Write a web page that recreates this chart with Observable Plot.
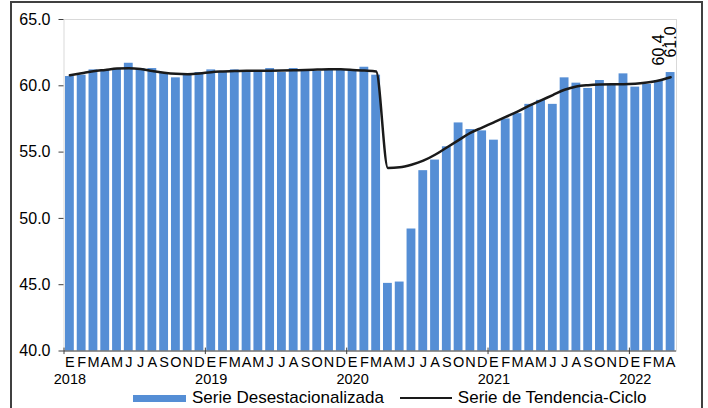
<!DOCTYPE html>
<html>
<head>
<meta charset="utf-8">
<script src="https://cdn.jsdelivr.net/npm/d3@7"></script>
<script src="https://cdn.jsdelivr.net/npm/@observablehq/plot@0.6"></script>
<style>
  body { margin: 0; background: #fff; font-family: "Liberation Sans", Arial, sans-serif; }
  #wrap { position: relative; width: 708px; height: 408px; overflow: hidden; background: #fff; }
  #borde { position: absolute; left: 10px; top: 1px; width: 689px; height: 430px; border: 2px solid #404040; pointer-events: none; }
  #legend { position: absolute; left: 0; top: 388px; width: 708px; height: 20px; display: flex; align-items: center; font-size: 17px; color: #000; }
  .sw-bar { margin-left: 133px; width: 53px; height: 7px; background: #558ed5; }
  .sw-line { margin-left: 16px; width: 52px; height: 2.5px; background: #1a1a1a; }
  .lab { margin-left: 6px; white-space: nowrap; }
</style>
</head>
<body>
<div id="wrap">
  <div id="chart"></div>
  <div id="legend">
    <div class="sw-bar"></div><span class="lab">Serie Desestacionalizada</span>
    <div class="sw-line"></div><span class="lab">Serie de Tendencia-Ciclo</span>
  </div>
  <div id="borde"></div>
</div>
<script>
// Datos (ene 2018 - abr 2022)
const anios = [2018, 2019, 2020, 2021, 2022]
const letras = ["E", "F", "M", "A", "M", "J", "J", "A", "S", "O", "N", "D"]
const yTicks = [40, 45, 50, 55, 60, 65]

const desest = [
  60.7, 60.8, 61.2, 61.2, 61.3, 61.7, 61.3, 61.3, 61.0, 60.6, 60.9, 61.0,
  61.2, 61.0, 61.2, 61.1, 61.1, 61.3, 61.0, 61.3, 61.1, 61.1, 61.2, 61.2,
  61.2, 61.4, 60.8, 45.1, 45.2, 49.2, 53.6, 54.4, 55.4, 57.2, 56.7, 56.6,
  55.9, 57.5, 57.9, 58.6, 58.9, 58.6, 60.6, 60.2, 59.8, 60.4, 60.1, 60.9,
  59.9, 60.1, 60.4, 61.0
]
const tendencia = [
  60.8, 60.95, 61.1, 61.2, 61.3, 61.33, 61.27, 61.12, 60.98, 60.9, 60.88, 60.93,
  61.03, 61.08, 61.12, 61.14, 61.14, 61.14, 61.15, 61.17, 61.2, 61.22, 61.25, 61.24,
  61.2, 61.15, 61.08, 53.8, 53.85, 54.05, 54.35, 54.8, 55.35, 55.9, 56.45, 56.85,
  57.25, 57.65, 58.05, 58.5, 58.9, 59.3, 59.7, 59.95, 60.05, 60.1, 60.12, 60.12,
  60.15, 60.25, 60.4, 60.65
]

// claves de mes "2018-01" ...
const meses = []
anios.forEach(a => letras.forEach((l, m) => meses.push(a + "-" + String(m + 1).padStart(2, "0"))))
meses.length = desest.length
const eneros = meses.filter(k => k.endsWith("-01"))

const data = meses.map((k, i) => ({mes: k, desest: desest[i], tendencia: tendencia[i]}))

const width = 708, height = 390
const mL = 63.5, mR = 32, mT = 19, mB = 39.5
const paso = (width - mL - mR) / meses.length
const oscuro = "#404040"

const chart = Plot.plot({
  width, height,
  marginLeft: mL, marginRight: mR, marginTop: mT, marginBottom: mB,
  style: {fontFamily: "Liberation Sans, Arial, sans-serif", fontSize: "15px", color: "#000", background: "transparent"},
  x: {type: "band", domain: meses, paddingInner: 0.25, paddingOuter: 0.125, label: null},
  y: {domain: [yTicks[0], yTicks[yTicks.length - 1]], label: null},
  marks: [
    Plot.frame({stroke: "#d9d9d9"}),
    Plot.barY(data, {x: "mes", y1: yTicks[0], y2: "desest", fill: "#558ed5"}),
    Plot.lineY(data, {x: "mes", y: "tendencia", curve: "monotone-x", stroke: "#1a1a1a", strokeWidth: 2.5}),
    Plot.text(data.slice(-2), {
      x: "mes", y: "desest", text: d => d.desest.toFixed(1),
      rotate: -90, textAnchor: "start", dy: -15, fontSize: 16, fill: "#000"
    }),
    Plot.axisY(yTicks, {
      tickFormat: d3.format(".1f"), tickSize: 5, tickPadding: 8.5,
      stroke: oscuro, line: true, label: null, fontSize: 16
    }),
    Plot.ruleY([yTicks[0]], {stroke: oscuro}),
    // marcas de cambio de anio
    Plot.ruleX(eneros, {x: d => d, dx: -paso / 2, y1: yTicks[0] + 0.22, y2: yTicks[0] - 0.27, stroke: oscuro}),
    Plot.axisX({tickFormat: k => letras[+k.slice(5) - 1], tickSize: 0, tickPadding: 5.5, fontSize: 14.5, label: null}),
    Plot.axisX(eneros, {tickFormat: k => k.slice(0, 4), tickSize: 0, tickPadding: 22.5, fontSize: 14.5, label: null})
  ]
})

d3.select("#chart").append(() => chart)
</script>
</body>
</html>
